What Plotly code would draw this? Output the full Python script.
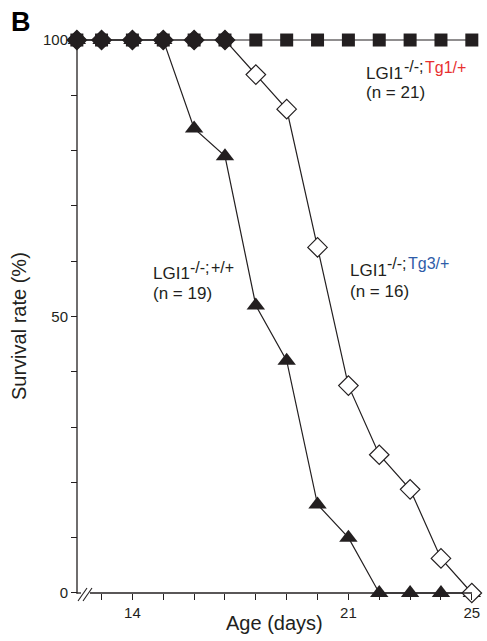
import plotly.graph_objects as go

# ---- data ----
days = [12.2, 13, 14, 15, 16, 17, 18, 19, 20, 21, 22, 23, 24, 25]   # 12.2 = first point at the axis break
wt = [100, 100, 100, 100, 84, 79, 52, 42, 16, 10, 0, 0, 0, 0]        # LGI1-/-;+/+ (n=19)
tg1 = [100] * 14                                                     # LGI1-/-;Tg1/+ (n=21)
tg3 = [100, 100, 100, 100, 100, 100, 93.75, 87.5, 62.5, 37.5, 25, 18.75, 6.25, 0]  # LGI1-/-;Tg3/+ (n=16)
x_tickvals = [14, 21, 25]
x_ticktext = ["14", "21", "25"]
y_tickvals = [0, 50, 100]
y_ticktext = ["0", "50", "100"]

W, H = 487, 641
L, R, T, B = 71, 6, 32, 40
FONT = "Liberation Sans, Arial, Helvetica, sans-serif"
INK = "#231f20"
RED = "#e8302f"
BLUE = "#2e5ca8"


def px(x):
    return (x - L) / (W - L - R)


def py(y):
    return (H - B - y) / (H - T - B)


fig = go.Figure()
fig.add_trace(go.Scatter(x=days, y=wt, mode="lines+markers", cliponaxis=False,
                         line=dict(color=INK, width=1.2),
                         marker=dict(symbol="triangle-up", size=16, color=INK,
                                     line=dict(width=0))))
fig.add_trace(go.Scatter(x=days, y=tg1, mode="lines+markers", cliponaxis=False,
                         line=dict(color=INK, width=1.2),
                         marker=dict(symbol="square", size=13, color=INK,
                                     line=dict(width=0))))
fig.add_trace(go.Scatter(x=days, y=tg3, mode="lines+markers", cliponaxis=False,
                         line=dict(color=INK, width=1.2),
                         marker=dict(symbol="diamond", size=15,
                                     color=[INK if v == 100 else "white" for v in tg3],
                                     line=dict(width=1.2, color=INK))))

shapes = []
lw = dict(color=INK, width=1.3)
# y axis line
shapes.append(dict(type="line", xref="paper", yref="paper", x0=px(77), x1=px(77),
                   y0=py(40), y1=py(593.6), line=lw))
# x axis line with break
shapes.append(dict(type="line", xref="paper", yref="paper", x0=px(76.4), x1=px(81),
                   y0=py(593), y1=py(593), line=lw))
shapes.append(dict(type="line", xref="paper", yref="paper", x0=px(90), x1=px(472),
                   y0=py(593), y1=py(593), line=lw))
for dx in (0, 5):
    shapes.append(dict(type="line", xref="paper", yref="paper",
                       x0=px(78 + dx), x1=px(87 + dx), y0=py(601), y1=py(588),
                       line=dict(color=INK, width=1.1)))

ann = []


def txt(s, x, y, size, color=INK, xanchor="left", **kw):
    ann.append(dict(text=s, x=px(x), y=py(y), xref="paper", yref="paper",
                    showarrow=False, font=dict(family=FONT, size=size, color=color),
                    xanchor=xanchor, yanchor="middle", borderpad=0, **kw))


txt("<b>B</b>", 21, 22, 27, color="black", xanchor="center")
txt("Age (days)", 274, 623, 20, xanchor="center")
txt("Survival rate (%)", 19, 326, 20, xanchor="center", textangle=-90)

# LGI1-/-;Tg1/+ (n = 21)
txt("LGI1", 365, 73.5, 17)
txt("-/-;", 403, 66.5, 16)
txt("Tg1/+", 424, 67.5, 16, color=RED)
txt("(n = 21)", 365, 92.5, 17)
# LGI1-/-;+/+ (n = 19)
txt("LGI1", 152, 273, 17)
txt("-/-;", 189, 267, 16)
txt("+/+", 210, 267.5, 16)
txt("(n = 19)", 152, 293, 17)
# LGI1-/-;Tg3/+ (n = 16)
txt("LGI1", 349, 270, 17)
txt("-/-;", 386, 263, 16)
txt("Tg3/+", 407, 263.5, 16, color=BLUE)
txt("(n = 16)", 349, 291, 17)

fig.update_layout(
    width=W, height=H, margin=dict(l=L, r=R, t=T, b=B, pad=0),
    paper_bgcolor="white", plot_bgcolor="white", showlegend=False,
    shapes=shapes, annotations=ann,
    font=dict(family=FONT, color=INK),
    xaxis=dict(range=[12.01, 12 + (W - L - R) / 30.833], showgrid=False, zeroline=False,
               showline=False, anchor="free", position=py(593),
               tickmode="array", tickvals=x_tickvals, ticktext=x_ticktext,
               ticks="outside", ticklen=6, tickwidth=1.2, tickcolor=INK,
               minor=dict(dtick=1, tick0=0, ticks="outside", ticklen=6, tickwidth=1.2,
                          tickcolor=INK, showgrid=False),
               tickfont=dict(family=FONT, size=15, color=INK)),
    yaxis=dict(range=[-1.45, 101.45], showgrid=False, zeroline=False,
               showline=False, anchor="free", position=px(77),
               tickmode="array", tickvals=y_tickvals, ticktext=y_ticktext,
               ticks="outside", ticklen=6, tickwidth=1.2, tickcolor=INK,
               minor=dict(dtick=10, tick0=0, ticks="outside", ticklen=6, tickwidth=1.2,
                          tickcolor=INK, showgrid=False),
               tickfont=dict(family=FONT, size=15, color=INK)),
)

fig.write_html("out.html", config={"displayModeBar": False},
               post_script="document.body.style.margin='0';document.body.style.padding='0';")
